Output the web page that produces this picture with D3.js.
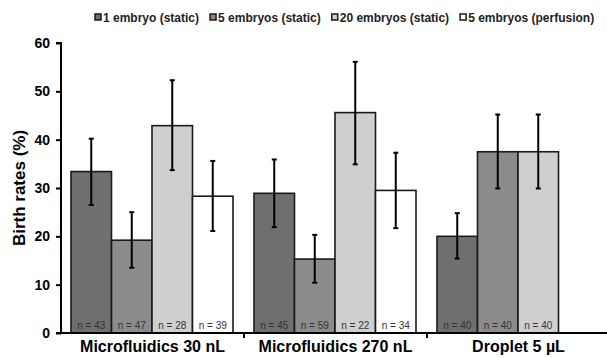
<!DOCTYPE html>
<html>
<head>
<meta charset="utf-8">
<script src="https://cdn.jsdelivr.net/npm/d3@7"></script>
<style>
  body { margin: 0; background: #fff; }
  svg { font-family: "Liberation Sans", Arial, sans-serif; }
</style>
</head>
<body>
<svg id="chart" width="607" height="358"></svg>
<script>
// data
var categories = ["Microfluidics 30 nL", "Microfluidics 270 nL", "Droplet 5 µL"];
var series = ["1 embryo (static)", "5 embryos (static)", "20 embryos (static)", "5 embryos (perfusion)"];
var colors = ["#6f6f6f", "#8b8b8b", "#cfcfcf", "#ffffff"];
var rates = [[33.4, 19.2, 42.9, 28.3], [28.9, 15.3, 45.6, 29.5], [20.0, 37.5, 37.5, null]];
var errHigh = [[40.2, 25.0, 52.3, 35.6], [35.9, 20.3, 56.1, 37.3], [24.8, 45.2, 45.2, null]];
var errLow = [[26.5, 13.5, 33.7, 21.1], [21.9, 10.4, 34.9, 21.7], [15.4, 29.9, 29.9, null]];
var counts = [[43, 47, 28, 39], [45, 59, 22, 34], [40, 40, 40, null]];
var yTicks = [0, 10, 20, 30, 40, 50, 60];

var svg = d3.select("#chart");
var margin = {left: 61, top: 43};
var W = 607;

var x0 = d3.scaleBand().domain(categories).range([margin.left, 610]);
var x1 = d3.scaleBand().domain(d3.range(4)).range([10, x0.bandwidth() - 11]);
var y = d3.scaleLinear().domain([0, 60]).range([333, margin.top]);

// one row per bar
var rows = [];
categories.forEach(function(c, i) {
  rates[i].forEach(function(v, j) {
    if (v == null) return;
    rows.push({cat: c, s: j, v: v, hi: errHigh[i][j], lo: errLow[i][j], n: counts[i][j]});
  });
});

var g = svg.append("g");
g.selectAll("rect.bar").data(rows).enter().append("rect")
  .attr("class", "bar")
  .attr("x", function(d) { return x0(d.cat) + x1(d.s); })
  .attr("y", function(d) { return y(d.v); })
  .attr("width", x1.bandwidth())
  .attr("height", function(d) { return y(0) - y(d.v); })
  .style("fill", function(d) { return colors[d.s]; })
  .style("stroke", "#1a1a1a").style("stroke-width", 1.6);

// n labels
var cx = function(d) { return x0(d.cat) + x1(d.s) + x1.bandwidth() / 2; };
g.selectAll("text.n").data(rows).enter().append("text")
  .attr("class", "n")
  .attr("x", cx)
  .attr("y", 329)
  .attr("text-anchor", "middle")
  .style("font-size", "10px").style("fill", "#333")
  .text(function(d) { return "n = " + d.n; });

// error bars
g.selectAll("line.err").data(rows).enter().append("line")
  .attr("x1", cx).attr("x2", cx)
  .attr("y1", function(d) { return y(d.hi); })
  .attr("y2", function(d) { return y(d.lo); })
  .style("stroke", "#000").style("stroke-width", 2);
["hi", "lo"].forEach(function(k) {
  g.selectAll("line.cap" + k).data(rows).enter().append("line")
    .attr("x1", function(d) { return cx(d) - 2.5; })
    .attr("x2", function(d) { return cx(d) + 2.5; })
    .attr("y1", function(d) { return y(d[k]); })
    .attr("y2", function(d) { return y(d[k]); })
    .style("stroke", "#000").style("stroke-width", 2);
});

// y axis
var yAxis = svg.append("g").attr("transform", "translate(" + margin.left + ",0)")
  .call(d3.axisLeft(y).tickValues(yTicks).tickSize(5).tickPadding(6));
yAxis.select(".domain").attr("d", "M-5," + y(60) + "H0V" + y(0) + "H-5").style("stroke", "#000").style("stroke-width", 2);
yAxis.selectAll(".tick line").style("stroke", "#000").style("stroke-width", 2);
yAxis.selectAll("text").style("font-size", "14px").style("font-weight", "bold").style("fill", "#000")
  .attr("font-family", "Liberation Sans, Arial, sans-serif");

// x axis
var xAxis = svg.append("g").attr("transform", "translate(0," + y(0) + ")")
  .call(d3.axisBottom(x0).tickSize(0).tickPadding(8));
xAxis.select(".domain").attr("d", "M" + margin.left + ",0H" + W).style("stroke", "#000").style("stroke-width", 2);
xAxis.selectAll("text").style("font-size", "16px").style("font-weight", "bold").style("fill", "#000")
  .attr("font-family", "Liberation Sans, Arial, sans-serif");
xAxis.selectAll("line.sep").data(categories.slice(1)).enter().append("line")
  .attr("x1", function(c) { return x0(c); }).attr("x2", function(c) { return x0(c); })
  .attr("y1", 0).attr("y2", 5)
  .style("stroke", "#000").style("stroke-width", 2);

// y title
svg.append("text")
  .attr("transform", "translate(25," + y(30) + ") rotate(-90)")
  .attr("text-anchor", "middle")
  .style("font-size", "17px").style("font-weight", "bold")
  .text("Birth rates (%)");

// legend, laid out left to right
var lx = 95;
series.forEach(function(s, i) {
  svg.append("rect").attr("x", lx).attr("y", 14).attr("width", 6).attr("height", 6)
    .style("fill", colors[i]).style("stroke", "#1a1a1a").style("stroke-width", 1.5);
  var t = svg.append("text").attr("x", lx + 8).attr("y", 21.5)
    .style("font-size", "12px").style("font-weight", "bold").style("fill", "#222")
    .text(s);
  lx += 8 + t.node().getComputedTextLength() + 11;
});
</script>
</body>
</html>
